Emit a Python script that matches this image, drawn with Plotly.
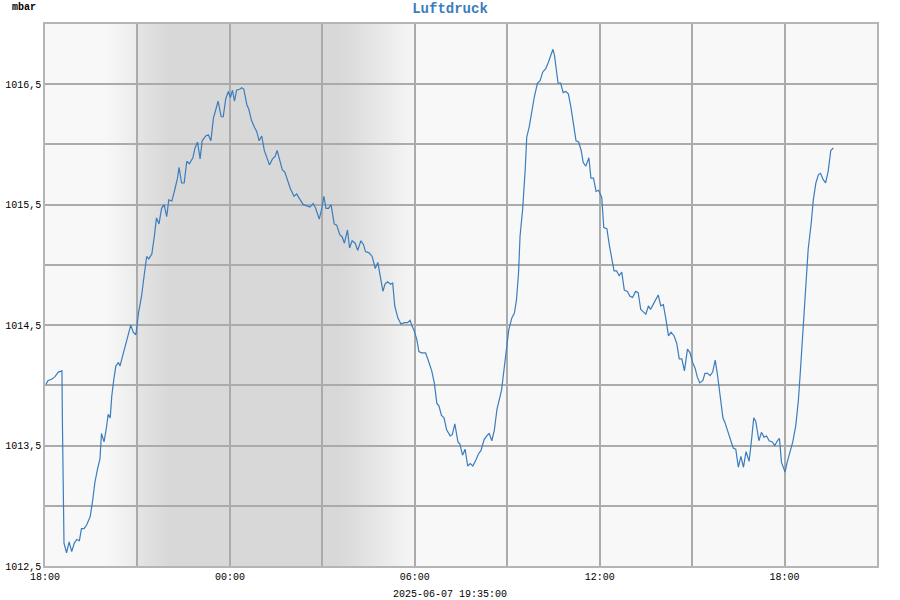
import pandas as pd
import plotly.graph_objects as go

# ---- data ----
start_time = "2025-06-06 18:00"
minutes = [2, 6, 13, 19, 26, 31, 33, 34, 36, 37, 42, 47, 52, 57, 62, 67, 71, 76, 81, 88,
           93, 97, 102, 107, 110, 115, 120, 123, 127, 130, 134, 138, 143, 146, 149,
           156, 161, 167, 172, 177, 182, 188, 193, 198, 202, 208, 213, 217, 222, 227,
           232, 237, 241, 247, 253, 258, 261, 266, 271, 276, 281, 288, 292, 297, 302,
           306, 313, 318, 323, 328, 332, 337, 343, 347, 352, 357, 361, 365, 369, 373,
           380, 383, 387, 393, 397, 402, 408, 412, 417, 422, 427, 432, 437, 443, 448,
           452, 458, 462, 467, 473, 478, 485, 490, 497, 503, 510, 516, 522, 527, 534,
           539, 543, 547, 552, 557, 563, 568, 574, 579, 583, 589, 593, 598, 604, 609,
           615, 620, 624, 631, 637, 643, 648, 652, 658, 662, 667, 673, 677, 681, 687,
           693, 700, 706, 711, 715, 719, 724, 728, 733, 741, 746, 753, 758, 763, 767,
           772, 777, 782, 789, 793, 798, 804, 808, 813, 818, 823, 828, 833, 839, 844,
           849, 855, 862, 865, 870, 875, 880, 884, 889, 894, 899, 903, 909, 914, 918,
           922, 925, 930, 935, 938, 943, 948, 953, 959, 964, 969, 975, 980, 985, 989,
           992, 995, 999, 1004, 1009, 1014, 1019, 1024, 1029, 1034, 1039, 1044, 1048,
           1053, 1059, 1063, 1068, 1073, 1078, 1084, 1088, 1094, 1099, 1103, 1108,
           1113, 1118, 1123, 1128, 1134, 1139, 1144, 1150, 1155, 1160, 1165, 1170,
           1175, 1179, 1184, 1189, 1194, 1199, 1204, 1209, 1214, 1219, 1225, 1230,
           1235, 1240, 1245, 1251, 1256, 1261, 1266, 1270, 1275, 1281, 1285, 1290,
           1295, 1300, 1305, 1309, 1314, 1320, 1324, 1329, 1335, 1340, 1345, 1350,
           1355, 1360, 1365, 1371, 1376, 1380, 1384, 1390, 1395, 1400, 1405, 1410,
           1416, 1421, 1426, 1430, 1434, 1441, 1445, 1451, 1456, 1462, 1467, 1471,
           1476, 1482, 1486, 1492, 1496, 1501, 1506, 1510, 1515, 1520, 1525, 1530, 1535]
pressure = [1014.01, 1014.04, 1014.05, 1014.07, 1014.11, 1014.12, 1014.12, 1013.66, 1012.99, 1012.69,
            1012.61, 1012.70, 1012.62, 1012.69, 1012.72, 1012.71, 1012.81, 1012.81, 1012.84, 1012.91,
            1013.05, 1013.19, 1013.30, 1013.39, 1013.60, 1013.53, 1013.66, 1013.76, 1013.73, 1013.91,
            1014.05, 1014.16, 1014.19, 1014.16, 1014.21,
            1014.32, 1014.41, 1014.50, 1014.44, 1014.42, 1014.60, 1014.74, 1014.91, 1015.07, 1015.05,
            1015.09, 1015.24, 1015.39, 1015.34, 1015.47, 1015.50, 1015.40, 1015.54, 1015.53, 1015.63,
            1015.72, 1015.81, 1015.68, 1015.68, 1015.86, 1015.84, 1015.89, 1015.97, 1016.02, 1015.88,
            1016.03, 1016.07, 1016.08, 1016.03, 1016.22, 1016.28, 1016.36, 1016.23, 1016.23, 1016.38,
            1016.44, 1016.39, 1016.45, 1016.36, 1016.45, 1016.46, 1016.47, 1016.46, 1016.33, 1016.29,
            1016.20, 1016.14, 1016.11, 1016.03, 1016.07, 1015.95, 1015.88, 1015.83, 1015.88, 1015.90,
            1015.95, 1015.85, 1015.79, 1015.77, 1015.70, 1015.63, 1015.57, 1015.59, 1015.54, 1015.50,
            1015.49, 1015.48, 1015.51, 1015.47, 1015.38, 1015.47, 1015.57, 1015.47, 1015.47, 1015.50,
            1015.34, 1015.33, 1015.25, 1015.23, 1015.18, 1015.29, 1015.14, 1015.20, 1015.18, 1015.12,
            1015.20, 1015.17, 1015.11, 1015.10, 1015.07, 1014.97, 1015.02, 1014.91, 1014.78, 1014.84,
            1014.86, 1014.84, 1014.85, 1014.66, 1014.56, 1014.51, 1014.52, 1014.52, 1014.54, 1014.49,
            1014.45, 1014.38, 1014.28, 1014.27, 1014.27, 1014.21, 1014.12, 1014.02, 1013.85, 1013.83,
            1013.75, 1013.73, 1013.63, 1013.58, 1013.59, 1013.68, 1013.53, 1013.51, 1013.42, 1013.47,
            1013.33, 1013.35, 1013.33, 1013.38, 1013.43, 1013.46, 1013.55, 1013.59, 1013.60, 1013.54,
            1013.63, 1013.80, 1013.88, 1013.96, 1014.14, 1014.32, 1014.46, 1014.56, 1014.60, 1014.71,
            1014.93, 1015.24, 1015.46, 1015.79, 1016.06, 1016.15, 1016.28, 1016.40, 1016.51, 1016.53,
            1016.60, 1016.63, 1016.68, 1016.74, 1016.79, 1016.74, 1016.62, 1016.51, 1016.51, 1016.43,
            1016.44, 1016.42, 1016.31, 1016.18, 1016.03, 1016.02, 1015.95, 1015.85, 1015.82, 1015.89,
            1015.72, 1015.72, 1015.61, 1015.62, 1015.56, 1015.31, 1015.30, 1015.16, 1015.06, 1014.95,
            1014.95, 1014.91, 1014.94, 1014.79, 1014.78, 1014.74, 1014.73, 1014.78, 1014.77, 1014.63,
            1014.61, 1014.59, 1014.66, 1014.63, 1014.67, 1014.71, 1014.75, 1014.66, 1014.67, 1014.55,
            1014.41, 1014.44, 1014.41, 1014.35, 1014.22, 1014.22, 1014.12, 1014.30, 1014.27, 1014.19,
            1014.14, 1014.07, 1014.02, 1014.04, 1014.10, 1014.10, 1014.08, 1014.11, 1014.21, 1014.10,
            1013.94, 1013.73, 1013.69, 1013.62, 1013.53, 1013.48, 1013.47, 1013.32, 1013.41, 1013.32,
            1013.45, 1013.37, 1013.56, 1013.73, 1013.70, 1013.54, 1013.61, 1013.57, 1013.58, 1013.54,
            1013.53, 1013.50, 1013.54, 1013.56, 1013.36, 1013.28, 1013.36, 1013.45, 1013.53, 1013.67,
            1013.88, 1014.13, 1014.49, 1014.85, 1015.13, 1015.35, 1015.54, 1015.68, 1015.75, 1015.76,
            1015.71, 1015.68, 1015.78, 1015.95, 1015.97]

x_tick_vals = ["2025-06-06 18:00", "2025-06-06 21:00", "2025-06-07 00:00", "2025-06-07 03:00",
               "2025-06-07 06:00", "2025-06-07 09:00", "2025-06-07 12:00", "2025-06-07 15:00",
               "2025-06-07 18:00", "2025-06-07 21:00"]
x_tick_text = ["18:00", "", "00:00", "", "06:00", "", "12:00", "", "18:00", ""]
y_tick_vals = [1012.5, 1013.0, 1013.5, 1014.0, 1014.5, 1015.0, 1015.5, 1016.0, 1016.5, 1017.0]
y_tick_text = ["1012,5", "", "1013,5", "", "1014,5", "", "1015,5", "", "1016,5", ""]

title_text = "Luftdruck"
unit_text = "mbar"
footer_text = "2025-06-07 19:35:00"

# night shading profile: (time, grey level)
shade_stops = [("2025-06-06 19:55", 248), ("2025-06-06 20:58", 236), ("2025-06-06 20:59", 228),
               ("2025-06-06 22:05", 216), ("2025-06-07 03:35", 216), ("2025-06-07 05:58", 246)]

t0 = pd.Timestamp(start_time)
times = [t0 + pd.Timedelta(minutes=m) for m in minutes]

fig = go.Figure()
fig.add_trace(go.Scatter(x=times, y=pressure, mode="lines",
                         line=dict(color="#3b7dbd", width=1.2), hoverinfo="x+y"))

# gradient shading built from thin, overlapping rectangles
shapes = []
stops = [(pd.Timestamp(t), g) for t, g in shade_stops]
for (ta, ga), (tb, gb) in zip(stops[:-1], stops[1:]):
    span = (tb - ta).total_seconds()
    if span <= 0:
        continue
    n = 1 if ga == gb else max(1, int(span / 180))
    for i in range(n):
        a = ta + pd.Timedelta(seconds=span * i / n)
        b = ta + pd.Timedelta(seconds=span * (i + 1) / n + (240 if i < n - 1 else 60))
        g = int(round(ga + (gb - ga) * (i + 0.5) / n))
        shapes.append(dict(type="rect", xref="x", yref="paper", x0=a, x1=b, y0=0, y1=1,
                           fillcolor=f"rgb({g},{g},{g})", line=dict(width=0), layer="below"))

mono = "Liberation Mono, Courier New, monospace"
axis_common = dict(showgrid=True, gridcolor="#ababab", gridwidth=1.5,
                   showline=True, linecolor="#b5b5b5", linewidth=1.5, mirror=True,
                   zeroline=False, ticks="", automargin=False,
                   tickfont=dict(family=mono, size=10, color="#000"))
fig.update_layout(
    width=900, height=600,
    margin=dict(l=45, r=23, t=24, b=34, autoexpand=False),
    paper_bgcolor="white", plot_bgcolor="#f8f8f8",
    showlegend=False,
    shapes=shapes,
    font=dict(family=mono, size=10, color="#000"),
    title=dict(text="<b>" + title_text + "</b>", x=0.5, xanchor="center", y=1 - 8 / 600,
               yanchor="middle", font=dict(family=mono, size=14, color="#3b7dbd")),
    xaxis=dict(type="date", range=["2025-06-06 18:00", "2025-06-07 21:00"],
               tickmode="array", tickvals=x_tick_vals, ticktext=x_tick_text, **axis_common),
    yaxis=dict(range=[1012.5, 1017.0], tickmode="array", tickvals=y_tick_vals,
               ticktext=y_tick_text, **axis_common),
    annotations=[
        dict(text="<b>" + unit_text + "</b>", xref="paper", yref="paper", x=(10 - 45) / 832,
             y=(566 - 8) / 542, xanchor="left", yanchor="middle", showarrow=False,
             font=dict(family=mono, size=10, color="#000")),
        dict(text=footer_text, xref="paper", yref="paper", x=(450 - 45) / 832,
             y=(566 - 594) / 542, xanchor="center", yanchor="middle", showarrow=False,
             font=dict(family=mono, size=10, color="#000")),
    ],
)

fig.write_html("out.html", config={"displayModeBar": False},
               post_script="document.body.style.margin='0';document.body.style.overflow='hidden';")
